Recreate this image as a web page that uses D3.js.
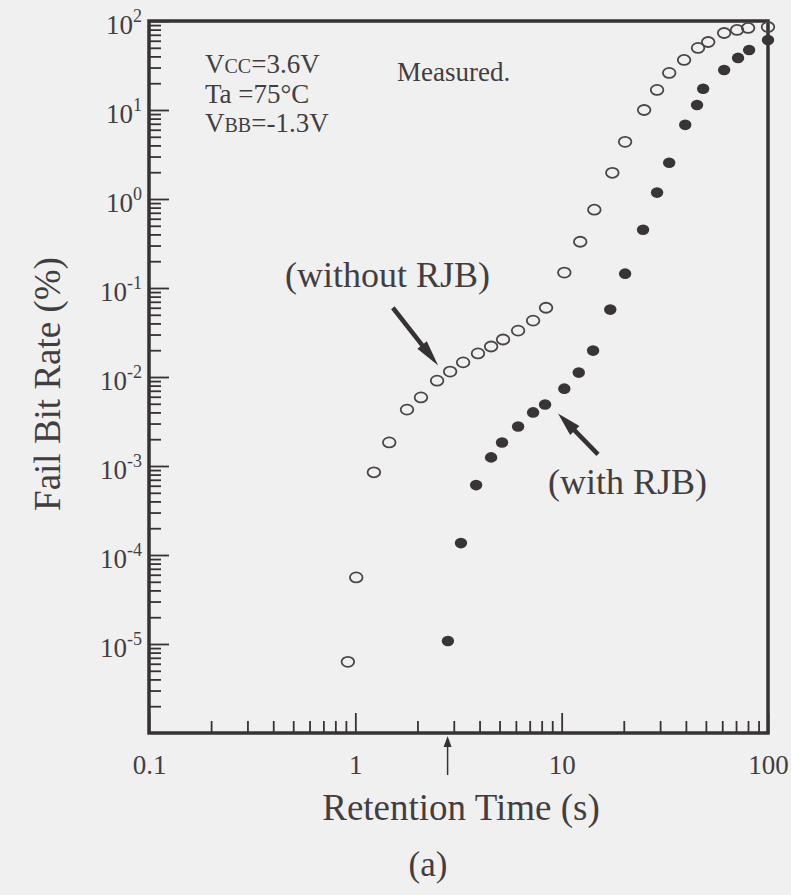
<!DOCTYPE html>
<html>
<head>
<meta charset="utf-8">
<script src="https://cdn.jsdelivr.net/npm/d3@7"></script>
<style>
body { margin: 0; background: #f1f0f1; }
text { font-family: "Liberation Serif", "Times New Roman", serif; fill: #423e40; }
</style>
</head>
<body>
<div id="chart"></div>
<script>
// retention time (s) and fail bit rate (%)
var withoutTime = [0.92, 1.01, 1.23, 1.46, 1.78, 2.08, 2.49, 2.88, 3.33, 3.93, 4.55, 5.2, 6.15, 7.27, 8.4,
    10.3, 12.3, 14.4, 17.6, 20.3, 25.1, 29.0, 33.2, 39.2, 45.8, 51.3, 61.3, 70.8, 80.1, 100];
var withoutRate = [6.3e-6, 5.6e-5, 8.5e-4, 1.84e-3, 4.3e-3, 5.9e-3, 9.1e-3, 0.0115, 0.0146, 0.0184, 0.022, 0.0264, 0.0332, 0.043, 0.060,
    0.149, 0.331, 0.758, 1.97, 4.39, 10.0, 16.8, 26.1, 36.5, 49.8, 58.1, 73.3, 79.3, 83.5, 85.6];

var withTime = [2.81, 3.25, 3.85, 4.55, 5.14, 6.15, 7.27, 8.31, 10.3, 12.1, 14.2, 17.2, 20.3, 24.8, 29.0,
    33.2, 39.7, 45.3, 48.5, 61.3, 71.6, 81.0, 100];
var withRate = [1.08e-5, 1.36e-4, 6.1e-4, 1.25e-3, 1.84e-3, 2.78e-3, 4.0e-3, 4.9e-3, 7.4e-3, 0.0112, 0.0198, 0.0572, 0.145, 0.452, 1.18,
    2.55, 6.81, 11.4, 17.3, 28.2, 38.5, 47.3, 61.2];

var xMajor = [0.1, 1, 10, 100];
var xLabels = ["0.1", "1", "10", "100"];
var yMajor = [1e-5, 1e-4, 1e-3, 1e-2, 1e-1, 1, 10, 100];
var yExp = ["-5", "-4", "-3", "-2", "-1", "0", "1", "2"];

// annotation arrows [time, rate] tail -> tip
var arrowWithout = [[1.52, 0.060], [2.52, 0.0135]];
var arrowWith = [[15.0, 1.35e-3], [9.6, 3.9e-3]];
var markedTime = 2.8;

var width = 791, height = 895;
var ink = "#363234";

var svg = d3.select("#chart").append("svg")
    .attr("width", width).attr("height", height);

svg.append("rect").attr("width", width).attr("height", height).attr("fill", "#f1f0f1");

var x = d3.scaleLog().domain([0.1, 100]).range([149, 768]);
var y = d3.scaleLog().domain([1e-6, 1e2]).range([733, 21]);

// minor ticks 2..9 in every decade
function minors(lo, hi) {
    var out = [];
    for (var d = lo; d < hi; d *= 10) {
        for (var k = 2; k <= 9; k++) out.push(d * k);
    }
    return out;
}

// y axis minor
svg.append("g")
    .attr("transform", "translate(" + x(0.1) + ",0)")
    .call(d3.axisLeft(y).tickValues(minors(1e-6, 1e2)).tickSize(-12).tickFormat(""))
    .call(g => g.select(".domain").remove())
    .selectAll("line").attr("stroke", ink).attr("stroke-width", 1.8);

// y axis major with 10^n labels
var yAxisG = svg.append("g")
    .attr("transform", "translate(" + x(0.1) + ",0)")
    .call(d3.axisLeft(y).tickValues(yMajor).tickSize(-20).tickPadding(7));
yAxisG.select(".domain").remove();
yAxisG.selectAll("line").attr("stroke", ink).attr("stroke-width", 1.8);
yAxisG.selectAll(".tick text")
    .attr("font-size", "27px")
    .attr("dy", "0.45em")
    .each(function (d, i) {
        var t = d3.select(this).text(null);
        t.append("tspan").text("10");
        t.append("tspan").attr("dy", -12).attr("font-size", "18px").text(yExp[i]);
    });

// x axis minor
svg.append("g")
    .attr("transform", "translate(0," + y(1e-6) + ")")
    .call(d3.axisBottom(x).tickValues(minors(0.1, 100)).tickSize(-12).tickFormat(""))
    .call(g => g.select(".domain").remove())
    .selectAll("line").attr("stroke", ink).attr("stroke-width", 1.8);

// x axis major
var xAxisG = svg.append("g")
    .attr("transform", "translate(0," + y(1e-6) + ")")
    .call(d3.axisBottom(x).tickValues(xMajor).tickSize(-20).tickPadding(22)
        .tickFormat(function (d, i) { return xLabels[i]; }));
xAxisG.select(".domain").remove();
xAxisG.selectAll("line").attr("stroke", ink).attr("stroke-width", 1.8);
xAxisG.selectAll(".tick text").attr("font-size", "27px");

// frame
svg.append("rect")
    .attr("x", x(0.1)).attr("y", y(100))
    .attr("width", x(100) - x(0.1)).attr("height", y(1e-6) - y(100))
    .attr("fill", "none").attr("stroke", ink).attr("stroke-width", 3.5);

// without RJB: open circles
svg.append("g").selectAll("ellipse")
    .data(withoutTime.map((t, i) => [t, withoutRate[i]]))
    .enter().append("ellipse")
    .attr("cx", d => x(d[0])).attr("cy", d => y(d[1]))
    .attr("rx", 6.3).attr("ry", 5)
    .attr("fill", "none").attr("stroke", "#4a4547").attr("stroke-width", 1.8);

// with RJB: filled circles
svg.append("g").selectAll("ellipse")
    .data(withTime.map((t, i) => [t, withRate[i]]))
    .enter().append("ellipse")
    .attr("cx", d => x(d[0])).attr("cy", d => y(d[1]))
    .attr("rx", 6.2).attr("ry", 5.3)
    .attr("fill", "#393436");

// arrow from tail to tip, head drawn as triangle
function drawArrow(x1, y1, x2, y2, headLen, headW, shaftW) {
    var dx = x2 - x1, dy = y2 - y1;
    var len = Math.sqrt(dx * dx + dy * dy);
    var ux = dx / len, uy = dy / len;
    var bx = x2 - ux * headLen, by = y2 - uy * headLen;
    svg.append("line")
        .attr("x1", x1).attr("y1", y1).attr("x2", bx + ux * 2).attr("y2", by + uy * 2)
        .attr("stroke", ink).attr("stroke-width", shaftW);
    svg.append("path")
        .attr("d", "M" + x2 + "," + y2 +
            "L" + (bx - uy * headW) + "," + (by + ux * headW) +
            "L" + (bx + uy * headW) + "," + (by - ux * headW) + "Z")
        .attr("fill", ink);
}

drawArrow(x(arrowWithout[0][0]), y(arrowWithout[0][1]), x(arrowWithout[1][0]), y(arrowWithout[1][1]), 26, 6, 4.5);
drawArrow(x(arrowWith[0][0]), y(arrowWith[0][1]), x(arrowWith[1][0]), y(arrowWith[1][1]), 24, 6.5, 4.5);
drawArrow(x(markedTime), y(1e-6) + 42, x(markedTime), y(1e-6) + 3, 11, 4, 1.5);

// labels
svg.append("text").attr("x", 285).attr("y", 287).attr("font-size", "36px").text("(without RJB)");
svg.append("text").attr("x", 548).attr("y", 494).attr("font-size", "36px").text("(with RJB)");
svg.append("text").attr("x", 397).attr("y", 81).attr("font-size", "27px").text("Measured.");

var cond = svg.append("g").attr("font-size", "27px");
var t1 = cond.append("text").attr("x", 205).attr("y", 73);
t1.append("tspan").text("V");
t1.append("tspan").attr("font-size", "20px").text("CC");
t1.append("tspan").text("=3.6V");
cond.append("text").attr("x", 205).attr("y", 103).text("Ta =75\u00B0C");
var t3 = cond.append("text").attr("x", 205).attr("y", 132);
t3.append("tspan").text("V");
t3.append("tspan").attr("font-size", "20px").text("BB");
t3.append("tspan").text("=-1.3V");

svg.append("text")
    .attr("transform", "translate(60,384) rotate(-90)")
    .attr("text-anchor", "middle").attr("font-size", "37px")
    .text("Fail Bit Rate (%)");

svg.append("text")
    .attr("x", 461).attr("y", 820)
    .attr("text-anchor", "middle").attr("font-size", "37px")
    .text("Retention Time (s)");

svg.append("text")
    .attr("x", 428).attr("y", 876)
    .attr("text-anchor", "middle").attr("font-size", "35px")
    .text("(a)");
</script>
</body>
</html>
